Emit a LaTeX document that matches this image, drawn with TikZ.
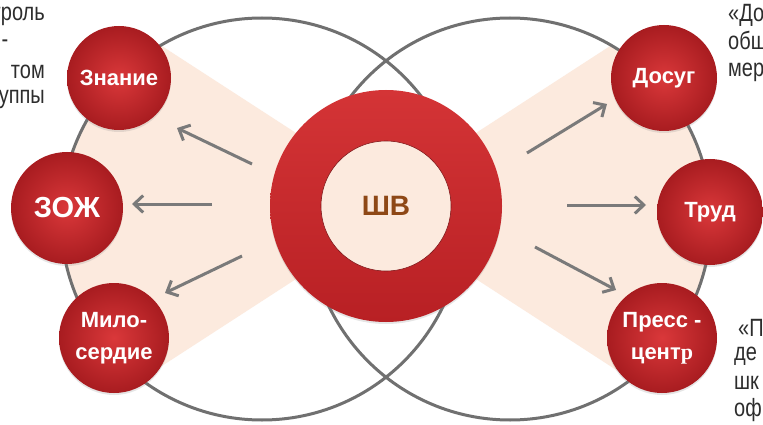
\documentclass[tikz,border=0pt]{standalone}
\usepackage{fontspec}
\setmainfont{Liberation Sans}
\newfontfamily\narrowfont[FakeStretch=0.8]{Liberation Sans}
\newfontfamily\seriffont{Liberation Serif}
\usetikzlibrary{arrows.meta,shadows}
\definecolor{cRedIn}{RGB}{218,56,58}
\definecolor{cRedOut}{RGB}{168,28,32}
\definecolor{cRingTop}{RGB}{212,52,54}
\definecolor{cRingBot}{RGB}{184,32,36}
\definecolor{cPeach}{RGB}{252,234,222}
\definecolor{cCircle}{RGB}{112,112,112}
\definecolor{cArrow}{RGB}{122,122,122}
\definecolor{cBrown}{RGB}{142,72,22}
\definecolor{cNote}{RGB}{45,45,45}

\begin{document}
\begin{tikzpicture}[x=1pt,y=-1pt,
   topic/.style={circle,inner sep=0pt,align=center,text=white,
     shading=radial,inner color=cRedIn,outer color=cRedOut,
     drop shadow={opacity=0.2,shadow xshift=0pt,shadow yshift=-2pt},
     font=\bfseries\fontsize{22}{32}\selectfont},
   bigring/.style={draw=cCircle,line width=3pt},
   arr/.style={draw=cArrow,line width=3pt,-{Straight Barb[length=9pt,width=17pt]}},
   note/.style={inner sep=0pt,text=cNote,font=\narrowfont\fontsize{25}{28}\selectfont}]
  \useasboundingbox[fill=white] (0,0) rectangle (763,425);
  % fans
  \begin{scope}
    \clip (262,219) circle (201pt);
    \fill[cPeach] (40,-33) -- (330,155) -- (330,257) -- (40,445) -- cycle;
  \end{scope}
  \begin{scope}
    \clip (510,219) circle (201pt);
    \fill[cPeach] (732,-33) -- (442,155) -- (442,257) -- (732,445) -- cycle;
  \end{scope}
  \draw[bigring] (262,219) circle (201pt);
  \draw[bigring] (510,219) circle (201pt);
  % centre
  \node[circle,minimum size=232pt,inner sep=0pt,shading=axis,top color=cRingTop,bottom color=cRingBot,
        drop shadow={opacity=0.2,shadow xshift=0pt,shadow yshift=-2pt}] (sv) at (386,206) {};
  \node[circle,minimum size=130pt,inner sep=0pt,fill=cPeach,draw=cRingBot!70!black,line width=0.6pt,
        text=cBrown,font=\bfseries\fontsize{28}{32}\selectfont] (svIn) at (sv) {ШВ};
  % left topics
  \node[topic,minimum size=104pt] (zn) at (119,78) {Знание};
  \node[topic,minimum size=112pt,font=\bfseries\fontsize{29}{32}\selectfont] (zozh) at (67,208) {ЗОЖ};
  \node[topic,minimum size=110pt] (mil) at (114,338) {Мило-\\сердие};
  % right topics
  \node[topic,minimum size=106pt] (dos) at (664,78) {Досуг};
  \node[topic,minimum size=106pt] (trud) at (710,212) {Труд};
  \node[topic,minimum size=110pt] (press) at (662,338) {Пресс -\\цент{\seriffont\bfseries р}};
  % arrows
  \coordinate (t1) at (252,164); \coordinate (h1) at (177,128);
  \coordinate (t2) at (212,204); \coordinate (h2) at (132,204);
  \coordinate (t3) at (242,256); \coordinate (h3) at (165,293);
  \coordinate (t4) at (527,153); \coordinate (h4) at (607,104);
  \coordinate (t5) at (567,205); \coordinate (h5) at (646,205);
  \coordinate (t6) at (535,247); \coordinate (h6) at (616,290);
  \draw[arr] (t1) -- (h1); \draw[arr] (t2) -- (h2); \draw[arr] (t3) -- (h3);
  \draw[arr] (t4) -- (h4); \draw[arr] (t5) -- (h5); \draw[arr] (t6) -- (h6);
  % side notes
  \node[note,anchor=east] (nl1) at (45,16) {троль};
  \node[note] (nl2) at (5,44) {-};
  \node[note,anchor=east] (nl3) at (45,72) {том};
  \node[note,anchor=east] (nl4) at (45,99) {уппы};
  \node[note,anchor=west] (nr1) at (728,15) {«До};
  \node[note,anchor=west] (nr2) at (728,43) {общ};
  \node[note,anchor=west] (nr3) at (728,72) {мер};
  \node[note,anchor=west] (nr4) at (738,328) {«П};
  \node[note,anchor=west] (nr5) at (734,356) {де};
  \node[note,anchor=west] (nr6) at (734,383) {шк};
  \node[note,anchor=west] (nr7) at (734,410) {оф};
\end{tikzpicture}
\end{document}
